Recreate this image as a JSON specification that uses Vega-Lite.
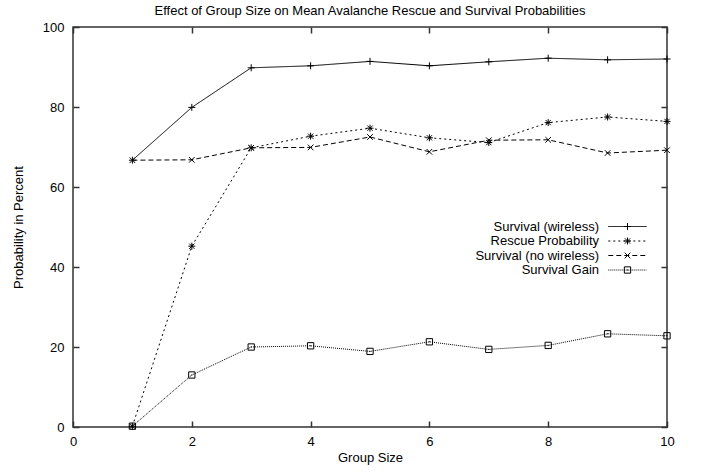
{
  "$schema": "https://vega.github.io/schema/vega-lite/v6.json",
  "width": 594,
  "height": 400,
  "autosize": {"type": "none"},
  "padding": {"left": 73, "top": 27, "right": 34, "bottom": 45},
  "title": {"text": "Effect of Group Size on Mean Avalanche Rescue and Survival Probabilities", "fontSize": 13, "fontWeight": "normal", "color": "black", "offset": 3.5, "anchor": "middle", "frame": "group"},
  "config": {"font": "Liberation Sans", "view": {"stroke": "#333", "strokeWidth": 1.5}},
  "data": {"values": [
    {"size": 1, "series": "Survival (wireless)", "pct": 66.7},
    {"size": 2, "series": "Survival (wireless)", "pct": 79.9},
    {"size": 3, "series": "Survival (wireless)", "pct": 89.8},
    {"size": 4, "series": "Survival (wireless)", "pct": 90.3},
    {"size": 5, "series": "Survival (wireless)", "pct": 91.4},
    {"size": 6, "series": "Survival (wireless)", "pct": 90.3},
    {"size": 7, "series": "Survival (wireless)", "pct": 91.3},
    {"size": 8, "series": "Survival (wireless)", "pct": 92.2},
    {"size": 9, "series": "Survival (wireless)", "pct": 91.8},
    {"size": 10, "series": "Survival (wireless)", "pct": 92.0},
    {"size": 1, "series": "Rescue Probability", "pct": 0.2},
    {"size": 2, "series": "Rescue Probability", "pct": 45.2},
    {"size": 3, "series": "Rescue Probability", "pct": 69.8},
    {"size": 4, "series": "Rescue Probability", "pct": 72.7},
    {"size": 5, "series": "Rescue Probability", "pct": 74.7},
    {"size": 6, "series": "Rescue Probability", "pct": 72.3},
    {"size": 7, "series": "Rescue Probability", "pct": 71.1},
    {"size": 8, "series": "Rescue Probability", "pct": 76.1},
    {"size": 9, "series": "Rescue Probability", "pct": 77.5},
    {"size": 10, "series": "Rescue Probability", "pct": 76.4},
    {"size": 1, "series": "Survival (no wireless)", "pct": 66.7},
    {"size": 2, "series": "Survival (no wireless)", "pct": 66.8},
    {"size": 3, "series": "Survival (no wireless)", "pct": 69.8},
    {"size": 4, "series": "Survival (no wireless)", "pct": 69.9},
    {"size": 5, "series": "Survival (no wireless)", "pct": 72.5},
    {"size": 6, "series": "Survival (no wireless)", "pct": 68.8},
    {"size": 7, "series": "Survival (no wireless)", "pct": 71.7},
    {"size": 8, "series": "Survival (no wireless)", "pct": 71.8},
    {"size": 9, "series": "Survival (no wireless)", "pct": 68.5},
    {"size": 10, "series": "Survival (no wireless)", "pct": 69.2},
    {"size": 1, "series": "Survival Gain", "pct": 0.2},
    {"size": 2, "series": "Survival Gain", "pct": 13.0},
    {"size": 3, "series": "Survival Gain", "pct": 20.0},
    {"size": 4, "series": "Survival Gain", "pct": 20.3},
    {"size": 5, "series": "Survival Gain", "pct": 18.9},
    {"size": 6, "series": "Survival Gain", "pct": 21.3},
    {"size": 7, "series": "Survival Gain", "pct": 19.4},
    {"size": 8, "series": "Survival Gain", "pct": 20.4},
    {"size": 9, "series": "Survival Gain", "pct": 23.3},
    {"size": 10, "series": "Survival Gain", "pct": 22.8}
  ]},
  "layer": [
    {
      "mark": {"type": "line", "color": "black", "strokeWidth": 1},
      "encoding": {
        "x": {"field": "size", "type": "quantitative", "scale": {"domain": [0, 10], "nice": false, "zero": false},
          "axis": {"orient": "bottom", "title": "Group Size", "values": [0, 2, 4, 6, 8, 10], "format": "d", "tickSize": -6, "tickWidth": 1.5, "tickColor": "#333", "labelPadding": 14, "labelFontSize": 13, "labelColor": "black", "labelFlush": false, "labelOverlap": false, "titleFontSize": 13, "titleFontWeight": "normal", "titleColor": "black", "titlePadding": 3, "domain": false, "grid": false}},
        "y": {"field": "pct", "type": "quantitative", "scale": {"domain": [0, 100], "nice": false},
          "axis": {"orient": "left", "title": "Probability in Percent", "values": [0, 20, 40, 60, 80, 100], "format": "d", "tickSize": -6, "tickWidth": 1.5, "tickColor": "#333", "labelPadding": 15, "labelFontSize": 13, "labelColor": "black", "labelFlush": false, "labelOverlap": false, "titleFontSize": 13, "titleFontWeight": "normal", "titleColor": "black", "titlePadding": 17, "domain": false, "grid": false}},
        "strokeDash": {"field": "series", "type": "nominal",
          "scale": {"domain": ["Survival (wireless)", "Rescue Probability", "Survival (no wireless)", "Survival Gain"], "range": [[1, 0], [2, 3], [5, 3], [1, 1]]},
          "legend": {"orient": "none", "legendX": 548, "legendY": 193, "direction": "vertical", "title": null, "padding": 0, "symbolType": "M-3.2,0L3.2,0", "symbolSize": 144, "symbolStrokeWidth": 1, "symbolStrokeColor": "black", "symbolFillColor": "transparent", "labelAlign": "right", "labelOffset": -35, "labelFontSize": 13, "labelColor": "black", "labelLimit": 300, "rowPadding": 0.5}}
      }
    },
    {
      "mark": {"type": "point", "filled": false, "color": "black", "strokeWidth": 1, "size": 49, "opacity": 1},
      "encoding": {
        "x": {"field": "size", "type": "quantitative",
          "axis": {"orient": "top", "title": null, "labels": false, "values": [0, 2, 4, 6, 8, 10], "tickSize": -6, "tickWidth": 1.5, "tickColor": "#333", "domain": false, "grid": false}},
        "y": {"field": "pct", "type": "quantitative",
          "axis": {"orient": "right", "title": null, "labels": false, "values": [0, 20, 40, 60, 80, 100], "tickSize": -6, "tickWidth": 1.5, "tickColor": "#333", "domain": false, "grid": false}},
        "shape": {"field": "series", "type": "nominal",
          "sort": ["Survival (wireless)", "Rescue Probability", "Survival (no wireless)", "Survival Gain"],
          "scale": {"range": ["M-1,0L1,0M0,-1L0,1", "M-1,0L1,0M0,-1L0,1M-0.75,-0.75L0.75,0.75M-0.75,0.75L0.75,-0.75", "M-0.8,-0.8L0.8,0.8M-0.8,0.8L0.8,-0.8", "M-0.9,-0.9L0.9,-0.9L0.9,0.9L-0.9,0.9Z M-0.15,0L0.15,0"]},
          "legend": {"orient": "none", "legendX": 548, "legendY": 193, "direction": "vertical", "title": null, "padding": 0, "symbolSize": 49, "symbolStrokeWidth": 1, "symbolStrokeColor": "black", "symbolFillColor": "white", "labelExpr": "' '", "labelAlign": "left", "labelOffset": 0, "labelFontSize": 13, "labelColor": "black", "labelLimit": 300, "rowPadding": 0.5}}
      }
    }
  ]
}
